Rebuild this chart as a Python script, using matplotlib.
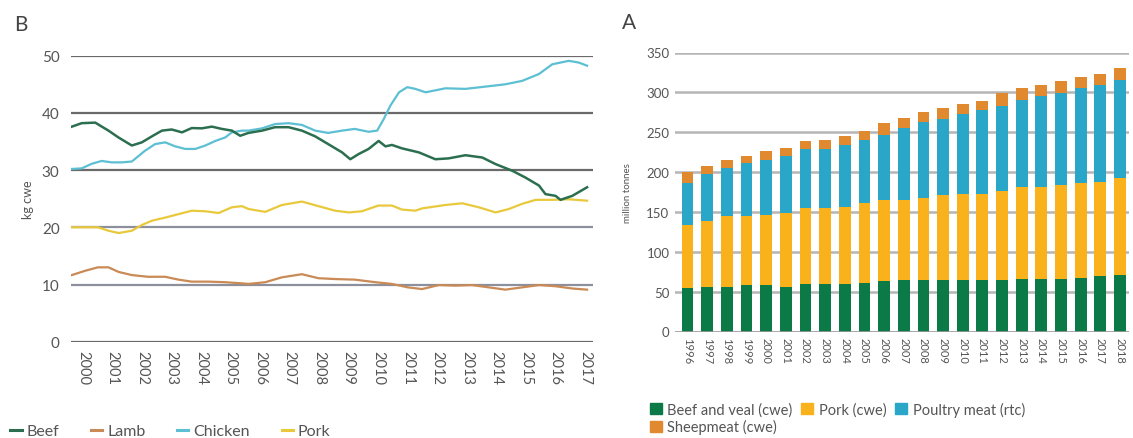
import matplotlib
matplotlib.use("Agg")
import matplotlib.pyplot as plt
from matplotlib.lines import Line2D
from matplotlib.patches import Patch
import numpy as np

plt.rcParams['font.family'] = ['Lato', 'DejaVu Sans']

# ---- Panel B: per-capita consumption, kg cwe ----
beef_x = [1999.62, 1999.95, 2000.41, 2000.86, 2001.2, 2001.65, 2001.99, 2002.33, 2002.67, 2003.0,
          2003.35, 2003.68, 2004.02, 2004.36, 2004.7, 2005.04, 2005.32, 2005.6, 2006.06, 2006.5,
          2006.96, 2007.41, 2007.86, 2008.3, 2008.77, 2009.05, 2009.33, 2009.67, 2010.01, 2010.24,
          2010.46, 2010.8, 2011.37, 2011.93, 2012.38, 2012.95, 2013.52, 2013.97, 2014.53, 2014.98,
          2015.44, 2015.66, 2016.0, 2016.17, 2016.57, 2017.07]
beef_y = [37.6, 38.2, 38.3, 36.9, 35.7, 34.3, 34.85, 35.9, 36.9, 37.1,
          36.6, 37.35, 37.3, 37.6, 37.2, 36.9, 36.0, 36.5, 36.9, 37.5,
          37.5, 36.9, 35.9, 34.55, 33.1, 31.9, 32.8, 33.7, 35.1, 34.15,
          34.4, 33.8, 33.1, 31.9, 32.05, 32.6, 32.2, 31.05, 29.9, 28.7,
          27.3, 25.8, 25.5, 24.8, 25.5, 27.0]

chicken_x = [1999.62, 1999.95, 2000.29, 2000.63, 2000.97, 2001.31, 2001.65, 2002.1, 2002.44, 2002.78,
             2003.12, 2003.46, 2003.8, 2004.14, 2004.48, 2004.81, 2005.04, 2005.38, 2005.6, 2006.06,
             2006.5, 2006.96, 2007.41, 2007.86, 2008.3, 2008.77, 2009.2, 2009.67, 2009.96, 2010.18,
             2010.41, 2010.7, 2010.98, 2011.25, 2011.6, 2012.27, 2012.95, 2013.63, 2014.3, 2014.87,
             2015.44, 2015.89, 2016.45, 2016.79, 2017.07]
chicken_y = [30.2, 30.3, 31.1, 31.6, 31.35, 31.35, 31.5, 33.4, 34.55, 34.85,
             34.15, 33.7, 33.7, 34.3, 35.1, 35.7, 36.6, 36.9, 36.9, 37.3,
             38.05, 38.2, 37.9, 36.9, 36.5, 36.9, 37.2, 36.7, 36.9, 38.9,
             41.3, 43.6, 44.5, 44.2, 43.6, 44.3, 44.2, 44.6, 45.0, 45.6,
             46.8, 48.5, 49.1, 48.8, 48.25]

pork_x = [1999.62, 2000.07, 2000.5, 2000.86, 2001.2, 2001.65, 2001.99, 2002.33, 2002.78, 2003.23,
          2003.68, 2004.14, 2004.59, 2005.04, 2005.38, 2005.6, 2006.17, 2006.73, 2007.41, 2007.97,
          2008.54, 2009.0, 2009.44, 2010.0, 2010.46, 2010.8, 2011.25, 2011.48, 2012.27, 2012.84,
          2013.4, 2013.97, 2014.42, 2014.87, 2015.33, 2015.89, 2016.45, 2017.07]
pork_y = [20.0, 20.0, 20.0, 19.4, 19.0, 19.4, 20.4, 21.15, 21.7, 22.3,
          22.9, 22.8, 22.5, 23.5, 23.7, 23.2, 22.7, 23.9, 24.5, 23.7,
          22.9, 22.6, 22.8, 23.8, 23.8, 23.1, 22.9, 23.3, 23.9, 24.2,
          23.5, 22.6, 23.2, 24.1, 24.8, 24.8, 24.9, 24.65]

lamb_x = [1999.62, 2000.07, 2000.5, 2000.86, 2001.2, 2001.65, 2002.2, 2002.78, 2003.23, 2003.68,
          2004.25, 2004.81, 2005.38, 2005.6, 2006.17, 2006.73, 2007.41, 2007.97, 2008.54, 2009.2,
          2009.9, 2010.46, 2011.0, 2011.48, 2012.05, 2012.61, 2013.17, 2013.74, 2014.3, 2014.87,
          2015.44, 2016.0, 2016.57, 2017.07]
lamb_y = [11.65, 12.4, 13.0, 13.0, 12.2, 11.65, 11.35, 11.35, 10.85, 10.5,
          10.5, 10.4, 10.2, 10.1, 10.4, 11.25, 11.8, 11.1, 10.95, 10.85,
          10.4, 10.1, 9.5, 9.2, 9.9, 9.8, 9.9, 9.5, 9.1, 9.5,
          9.9, 9.7, 9.3, 9.1]

line_years = list(range(2000, 2018))
line_yticks = [0, 10, 20, 30, 40, 50]

# ---- Panel A: world production, million tonnes ----
prod_years = list(range(1996, 2019))
beef_veal = [55, 56, 56, 58, 58, 56, 59, 59, 60, 61, 63, 64, 64, 64, 65, 64, 65, 66, 66, 66, 67, 69, 71]
pork_top = [134, 138, 145, 145, 146, 149, 155, 155, 156, 161, 165, 165, 167, 171, 172, 173, 176, 181, 181, 184, 186, 188, 192]
poultry_top = [186, 197, 205, 211, 215, 220, 229, 229, 234, 240, 247, 255, 263, 267, 273, 278, 283, 291, 296, 299, 305, 309, 316]
total_top = [200, 208, 215, 220, 226, 230, 239, 240, 245, 252, 261, 268, 275, 280, 286, 289, 299, 305, 309, 314, 319, 323, 331]
pork_cwe = [p - b for p, b in zip(pork_top, beef_veal)]
poultry_rtc = [q - p for q, p in zip(poultry_top, pork_top)]
sheepmeat = [t - q for t, q in zip(total_top, poultry_top)]
prod_yticks = [0, 50, 100, 150, 200, 250, 300, 350]

TXT = '#555555'
C_BEEF_L, C_LAMB_L, C_CHICK_L, C_PORK_L = '#2c6f50', '#c98a55', '#5cbfd3', '#e9c93c'
C_BEEF, C_PORK, C_POULTRY, C_SHEEP = '#0b7a46', '#f9b21c', '#2aa6c8', '#e0892e'

fig = plt.figure(figsize=(11.33, 4.39), dpi=100)

# ---------- left panel ----------
axL = fig.add_axes([70.7 / 1133, 1 - 342.7 / 439, 522.3 / 1133, 286 / 439])
axL.set_xlim(1999.58, 2017.27)
axL.set_ylim(0, 50)
for v in line_yticks:
    col = '#8c8f9c' if v in (10, 20) else '#6a6a6a'
    axL.axhline(v, color=col, lw=1.6, zorder=1)
axL.plot(lamb_x, lamb_y, color=C_LAMB_L, lw=1.6, zorder=3)
axL.plot(pork_x, pork_y, color=C_PORK_L, lw=1.6, zorder=3)
axL.plot(chicken_x, chicken_y, color=C_CHICK_L, lw=1.6, zorder=3)
axL.plot(beef_x, beef_y, color=C_BEEF_L, lw=1.8, zorder=4)
axL.set_xticks(line_years)
axL.set_xticklabels([str(y) for y in line_years], rotation=270, fontsize=10.5, color=TXT)
axL.set_yticks(line_yticks)
axL.set_yticklabels([str(v) for v in line_yticks], fontsize=11, color=TXT)
axL.tick_params(length=0, pad=6)
axL.tick_params(axis='y', pad=8)
for s in axL.spines.values():
    s.set_visible(False)
axL.set_ylabel('kg cwe', fontsize=9, color=TXT, labelpad=6)
fig.text(14 / 1133, 1 - 25 / 439, 'B', fontsize=15, color='#444444', va='center', ha='left')

handlesL = [Line2D([0], [0], color=c, lw=2.2) for c in (C_BEEF_L, C_LAMB_L, C_CHICK_L, C_PORK_L)]
fig.legend(handlesL, ['Beef', 'Lamb', 'Chicken', 'Pork'], loc='center left',
           bbox_to_anchor=(4 / 1133, 1 - 432 / 439), ncol=4, frameon=False,
           fontsize=11.5, handlelength=0.7, handletextpad=0.3, columnspacing=2.0,
           labelcolor=TXT, borderaxespad=0)

# ---------- right panel ----------
axR = fig.add_axes([675 / 1133, 1 - 332.5 / 439, 454 / 1133, 279 / 439])
x = np.arange(len(prod_years))
axR.set_xlim(-0.64, 22.46)
axR.set_ylim(0, 350)
for v in prod_yticks[1:]:
    axR.axhline(v, color='#b5b5b5', lw=1.8, zorder=1)
w = 0.6
axR.bar(x, beef_veal, width=w, color=C_BEEF, zorder=2)
axR.bar(x, pork_cwe, width=w, bottom=beef_veal, color=C_PORK, zorder=2)
axR.bar(x, poultry_rtc, width=w, bottom=pork_top, color=C_POULTRY, zorder=2)
axR.bar(x, sheepmeat, width=w, bottom=poultry_top, color=C_SHEEP, zorder=2)
axR.axhline(0, color='#9a9a9a', lw=1.2, zorder=3)
axR.set_xticks(x)
axR.set_xticklabels([str(y) for y in prod_years], rotation=270, fontsize=8, color=TXT)
axR.set_yticks(prod_yticks)
axR.set_yticklabels([str(v) for v in prod_yticks], fontsize=9.5, color=TXT)
axR.tick_params(length=0, pad=4)
for s in axR.spines.values():
    s.set_visible(False)
axR.set_ylabel('million tonnes', fontsize=7, color=TXT, labelpad=10)
fig.text(622 / 1133, 1 - 23 / 439, 'A', fontsize=15, color='#444444', va='center', ha='left')

handlesR = [Patch(color=C_BEEF), Patch(color=C_SHEEP), Patch(color=C_PORK), Patch(color=C_POULTRY)]
fig.legend(handlesR, ['Beef and veal (cwe)', 'Sheepmeat (cwe)', 'Pork (cwe)', 'Poultry meat (rtc)'],
           loc='upper left', bbox_to_anchor=(644 / 1133, 1 - 397 / 439), ncol=3, frameon=False,
           fontsize=10.5, handlelength=0.8, handleheight=0.8, handletextpad=0.4,
           columnspacing=0.6, labelspacing=0.15, labelcolor=TXT, borderaxespad=0)

fig.savefig('out.png', dpi=100, facecolor='white')
